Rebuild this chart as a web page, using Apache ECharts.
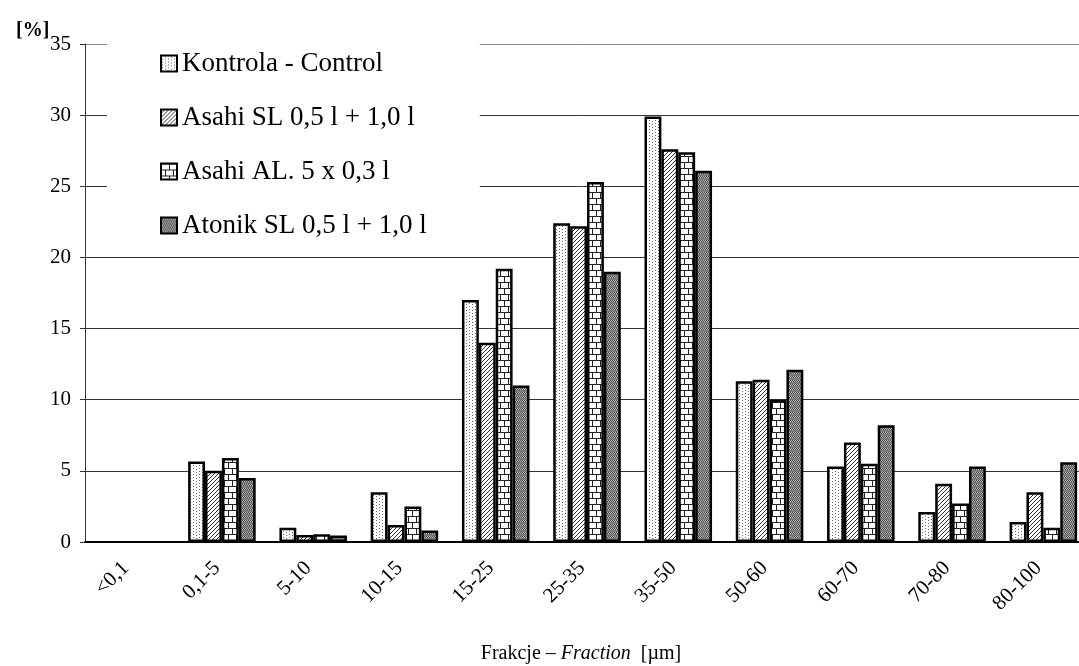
<!DOCTYPE html>
<html>
<head>
<meta charset="utf-8">
<script src="https://cdn.jsdelivr.net/npm/echarts@6/dist/echarts.min.js"></script>
<style>
  html, body { margin: 0; padding: 0; background: #fff; }
  #chart { width: 1079px; height: 666px; }
</style>
</head>
<body>
<div id="chart"></div>
<script>
const fractions = ['<0,1', '0,1-5', '5-10', '10-15', '15-25', '25-35', '35-50', '50-60', '60-70', '70-80', '80-100'];
const seriesNames = ['Kontrola - Control', 'Asahi SL 0,5 l + 1,0 l', 'Asahi AL. 5 x 0,3 l', 'Atonik SL 0,5 l + 1,0 l'];
const kontrola = [0, 5.65, 1.0, 3.5, 17.0, 22.4, 29.9, 11.3, 5.3, 2.1, 1.4];
const asahiSL  = [0, 5.0, 0.5, 1.2, 14.0, 22.2, 27.6, 11.4, 7.0, 4.1, 3.5];
const asahiAL  = [0, 5.9, 0.55, 2.5, 19.2, 25.3, 27.4, 10.0, 5.5, 2.7, 1.0];
const atonik   = [0, 4.5, 0.45, 0.8, 11.0, 19.0, 26.1, 12.1, 8.2, 5.3, 5.6];

// small canvases used as fill patterns
function makePattern(w, h, draw) {
    const c = document.createElement('canvas');
    c.width = w;
    c.height = h;
    const ctx = c.getContext('2d');
    ctx.fillStyle = '#fff';
    ctx.fillRect(0, 0, w, h);
    draw(ctx);
    return { image: c, repeat: 'repeat' };
}

const dots = makePattern(6, 3, ctx => {
    ctx.fillStyle = '#666';
    ctx.fillRect(1, 0, 1, 1);
    ctx.fillRect(4, 1, 1, 1);
});

const hatch = makePattern(4, 4, ctx => {
    ctx.fillStyle = '#333';
    ctx.fillRect(3, 0, 1, 1);
    ctx.fillRect(2, 1, 1, 1);
    ctx.fillRect(1, 2, 1, 1);
    ctx.fillRect(0, 3, 1, 1);
});

const bricks = makePattern(8, 12, ctx => {
    ctx.fillStyle = '#222';
    ctx.fillRect(0, 0, 8, 1);
    ctx.fillRect(0, 6, 8, 1);
    ctx.fillRect(0, 0, 1, 6);
    ctx.fillRect(4, 6, 1, 6);
});

const gray = makePattern(4, 4, ctx => {
    ctx.fillStyle = '#7a7a7a';
    ctx.fillRect(0, 0, 4, 4);
    ctx.fillStyle = '#444';
    ctx.fillRect(0, 0, 1, 1);
    ctx.fillRect(2, 0, 1, 1);
    ctx.fillRect(1, 1, 1, 1);
    ctx.fillRect(3, 1, 1, 1);
    ctx.fillStyle = '#bbb';
    ctx.fillRect(1, 0, 1, 1);
    ctx.fillRect(3, 0, 1, 1);
    ctx.fillRect(0, 1, 1, 1);
    ctx.fillRect(2, 1, 1, 1);
});

const values = [kontrola, asahiSL, asahiAL, atonik];
const fills = [dots, hatch, bricks, gray];

// zero bars get no outline so nothing shows at the baseline
function toData(arr) {
    return arr.map(v => v === 0 ? { value: 0, itemStyle: { borderWidth: 0 } } : v);
}

const chart = echarts.init(document.getElementById('chart'));

chart.setOption({
    animation: false,
    textStyle: { fontFamily: 'Liberation Serif' },
    title: {
        text: '[%]',
        left: 11,
        top: 16,
        textStyle: { fontFamily: 'Liberation Serif', fontSize: 20, fontWeight: 'bold', color: '#000' }
    },
    legend: {
        orient: 'vertical',
        left: 107,
        top: 40,
        padding: [10, 53, 12, 53],
        itemGap: 27,
        itemWidth: 16,
        itemHeight: 16,
        icon: 'rect',
        backgroundColor: '#fff',
        selectedMode: false,
        data: seriesNames,
        textStyle: { fontFamily: 'Liberation Serif', fontSize: 27, lineHeight: 27, color: '#000' }
    },
    grid: {
        left: 85,
        right: -10,
        top: 44,
        bottom: 124,
        outerBoundsMode: 'none'
    },
    xAxis: {
        type: 'category',
        data: fractions,
        name: '{a|Frakcje – }{b|Fraction}{a|  [µm]}',
        nameLocation: 'middle',
        nameGap: 102,
        nameTextStyle: {
            padding: [0, 12, 0, 0],
            rich: {
                a: { fontFamily: 'Liberation Serif', fontSize: 20, color: '#000' },
                b: { fontFamily: 'Liberation Serif', fontSize: 20, fontStyle: 'italic', color: '#000' }
            }
        },
        axisLine: { lineStyle: { color: '#000', width: 2 } },
        axisTick: { length: 6, lineStyle: { color: '#333' } },
        axisLabel: {
            interval: 0,
            rotate: 45,
            margin: 18,
            padding: [0, 7, 0, 0],
            fontFamily: 'Liberation Serif',
            fontSize: 21,
            color: '#000'
        }
    },
    yAxis: {
        type: 'value',
        min: 0,
        max: 35,
        interval: 5,
        axisLine: { show: true, lineStyle: { color: '#333', width: 1 } },
        axisTick: { show: true, length: 5, lineStyle: { color: '#333' } },
        axisLabel: {
            margin: 14,
            fontFamily: 'Liberation Serif',
            fontSize: 21,
            color: '#000'
        },
        splitLine: {
            lineStyle: {
                color: ['#333', '#333', '#333', '#333', '#333', '#333', '#333', '#888'],
                width: 1
            }
        }
    },
    series: seriesNames.map((name, i) => ({
        name: name,
        type: 'bar',
        data: toData(values[i]),
        barGap: '0%',
        barCategoryGap: '26%',
        itemStyle: {
            color: fills[i],
            borderColor: '#000',
            borderWidth: 2.5
        }
    }))
});
</script>
</body>
</html>
